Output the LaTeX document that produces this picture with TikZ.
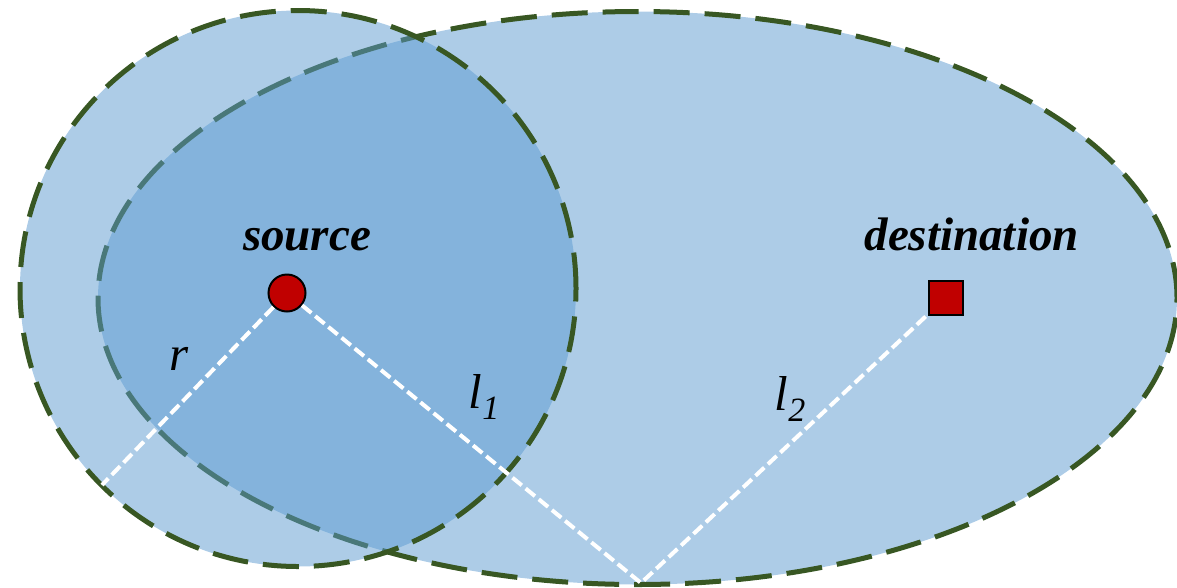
\documentclass[tikz,border=0pt]{standalone}
\usepackage{fontspec}
\setmainfont{Liberation Serif}
\usetikzlibrary{positioning}
\definecolor{zoneblue}{RGB}{91,154,208}
\definecolor{zonegreen}{RGB}{56,87,35}
\definecolor{markred}{RGB}{192,0,0}
\newcommand{\sublbl}[2]{#1\raisebox{-11.5pt}{\fontsize{34}{34}\selectfont #2}}

\begin{document}
\begin{tikzpicture}[x=1pt,y=-1pt,
  zone/.style={draw=zonegreen, line width=5pt, dash pattern=on 36pt off 15pt, fill=zoneblue, fill opacity=0.5},
  route/.style={draw=white, line width=4pt, dash pattern=on 12pt off 5pt},
  marker/.style={draw=black, line width=2pt, fill=markred, inner sep=0pt},
  tag/.style={font=\fontsize{47}{50}\selectfont\bfseries\itshape, inner sep=0pt, anchor=base},
  sym/.style={font=\fontsize{49}{52}\selectfont\itshape, inner sep=0pt, anchor=base}]
\useasboundingbox (0,0) rectangle (1177,587);
% Regions: ellipse first, circle on top
\draw[zone] (637.5,298) ellipse [x radius=539.5pt, y radius=286.5pt];
\draw[zone] (298,288.5) circle [radius=278pt];
% Source and destination
\node[marker, circle, minimum size=37pt] (source) at (287,293) {};
\node[marker, rectangle, minimum size=34pt] (dest) at (946,297.5) {};
\coordinate (rim) at (102,485);
\coordinate (apex) at (641,583);
% Distances
\draw[route] (source) -- (rim);
\draw[route] (source) -- (apex) -- (dest);
% Labels
\node[tag] (srclabel) at (307,250) {source};
\node[tag] (dstlabel) at (971.6,250) {destination};
\node[sym] (rlabel) at (179,370) {r};
\node[sym] (lonelabel) at (484,408) {\sublbl{l}{1}};
\node[sym] (ltwolabel) at (790,410) {\sublbl{l}{2}};
\end{tikzpicture}
\end{document}
